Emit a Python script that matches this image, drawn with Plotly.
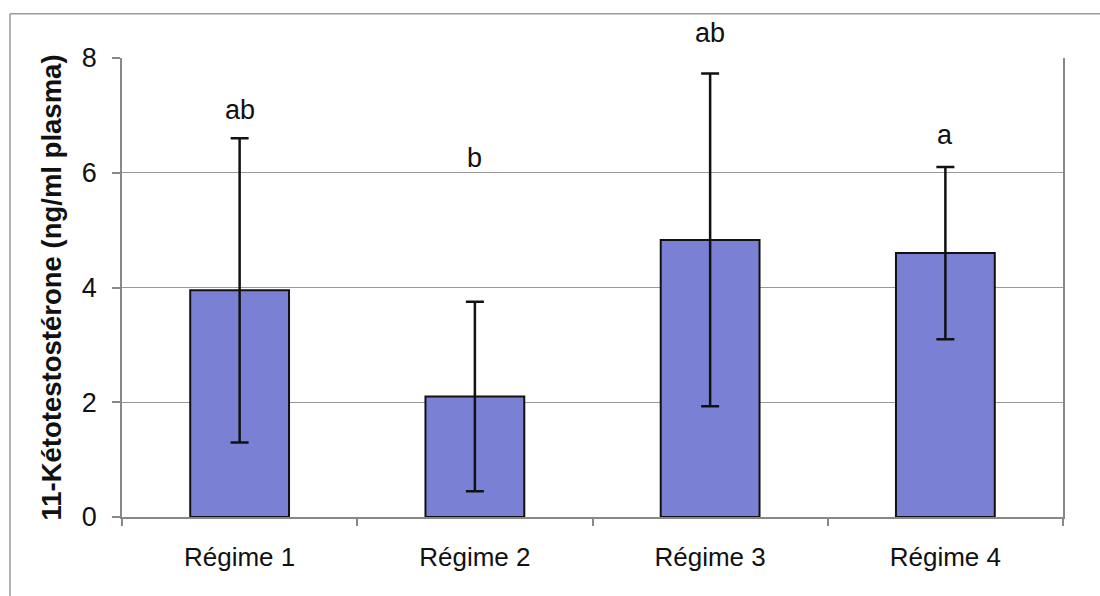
import plotly.graph_objects as go

categories = ["Régime 1", "Régime 2", "Régime 3", "Régime 4"]
means = [3.95, 2.1, 4.83, 4.6]
errors = [2.65, 1.65, 2.9, 1.5]
letters = ["ab", "b", "ab", "a"]
letter_y = [7.09, 6.25, 8.43, 6.65]
y_ticks = [0, 2, 4, 6, 8]
Y_MAX = 8

FONT = "Liberation Sans, Arial, sans-serif"

fig = go.Figure()
fig.add_trace(go.Bar(
    x=categories, y=means,
    marker=dict(color="rgb(122,128,212)", line=dict(color="#111", width=2)),
    width=0.42,
    error_y=dict(type="data", array=errors, visible=True, color="#111", thickness=2.5, width=9),
))

for c, t, yv in zip(categories, letters, letter_y):
    fig.add_annotation(x=c, y=yv / Y_MAX, yref="paper", text=t, showarrow=False,
                       font=dict(family=FONT, size=27, color="#111"), yanchor="middle")

# outer frame (top and left)
fig.add_shape(type="line", xref="paper", yref="paper", x0=-0.1190, x1=1.05, y0=1.0963, y1=1.0963,
              line=dict(color="#999", width=1.5))
fig.add_shape(type="line", xref="paper", yref="paper", x0=-0.1190, x1=-0.1190, y0=1.0963, y1=-0.2,
              line=dict(color="#999", width=1.5))

fig.update_layout(
    width=1100, height=596,
    margin=dict(l=122, r=37, t=58, b=79),
    paper_bgcolor="white", plot_bgcolor="white",
    showlegend=False,
    font=dict(family=FONT, color="#111"),
    xaxis=dict(
        showline=True, linecolor="#888", linewidth=1.5,
        ticks="outside", tickson="boundaries", ticklen=7, tickcolor="#888", tickwidth=1.5,
        tickfont=dict(size=26, family=FONT, color="#111"),
        ticklabelstandoff=16,
        showgrid=False,
    ),
    yaxis=dict(
        range=[0, Y_MAX], tickvals=y_ticks,
        showline=True, linecolor="#888", linewidth=1.5, mirror=True,
        ticks="outside", ticklen=8, tickcolor="#888", tickwidth=1.5,
        tickfont=dict(size=27, family=FONT, color="#111"),
        ticklabelstandoff=10,
        showgrid=True, gridcolor="#999", gridwidth=1,
        zeroline=False,
        title=dict(text="<b>11-Kétotestostérone (ng/ml plasma)</b>",
                   font=dict(size=27.5, family=FONT, color="#111"), standoff=12),
    ),
)

fig.write_html("out.html", config={"displayModeBar": False},
               post_script="document.body.style.margin='0px';")
